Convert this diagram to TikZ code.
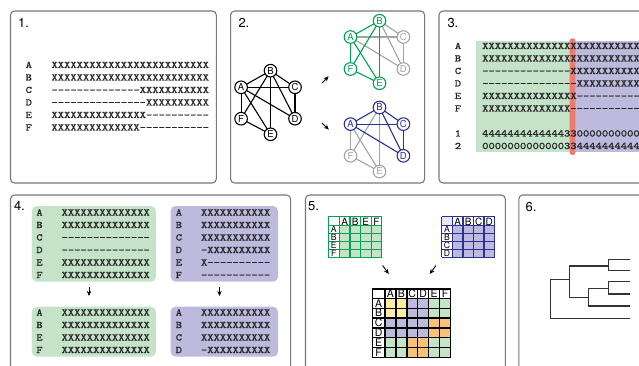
\documentclass[tikz,border=0pt]{standalone}
\usepackage{fontspec}
\setsansfont{TeX Gyre Heros}
\setmonofont[FakeStretch=1.2,FakeBold=1.2]{Latin Modern Mono}
\usetikzlibrary{arrows.meta}

\definecolor{seqgreen}{RGB}{197,227,201}
\definecolor{seqpurple}{RGB}{190,186,222}
\definecolor{cutred}{RGB}{238,122,112}
\definecolor{grgreen}{RGB}{0,163,80}
\definecolor{grblue}{RGB}{44,48,150}
\definecolor{grgray}{RGB}{160,164,168}
\definecolor{panelgray}{RGB}{120,120,120}
\definecolor{cellY}{RGB}{251,238,163}
\definecolor{cellO}{RGB}{246,194,122}
\definecolor{cellG}{RGB}{197,227,201}
\definecolor{cellP}{RGB}{190,186,222}

% repeat a character n times
\ExplSyntaxOn
\cs_new:Npn \seqrep #1#2 { \prg_replicate:nn {#1} {#2} }
\ExplSyntaxOff

\begin{document}
\begin{tikzpicture}[x=1pt,y=-1pt,
  panel/.style={draw=panelgray, line width=1.1pt, rounded corners=4pt},
  plabel/.style={font=\sffamily\fontsize{13}{13}\selectfont, inner sep=0pt, anchor=west},
  seq/.style={font=\ttfamily\fontsize{10}{10}\selectfont, inner sep=0pt, anchor=base west, text=black!85},
  rowlab/.style={font=\ttfamily\fontsize{10}{10}\selectfont, inner sep=0pt, anchor=base, text=black!85},
  vtx/.style={circle, draw, fill=white, line width=1.1pt, minimum size=12.6pt, inner sep=0pt,
    font=\sffamily\fontsize{9.5}{9.5}\selectfont},
  edge/.style={line width=1.1pt},
  sarrow/.style={-{Stealth[length=5pt,width=4.4pt]}, line width=0.9pt},
  tree/.style={line width=1.3pt, draw=black!80},
  mlab/.style={inner sep=0pt, font=\sffamily\fontsize{10}{10}\selectfont},
  rlab/.style={inner sep=0pt, font=\sffamily\fontsize{8.6}{8.6}\selectfont},
  blab/.style={inner sep=0pt, font=\sffamily\fontsize{10.5}{10.5}\selectfont},
]
\useasboundingbox (0,0) rectangle (639,366);
\clip (0,0) rectangle (639,366);

% ---------- panel frames ----------
\draw[panel] (10.5,11) rectangle (216.3,183);
\draw[panel] (230.6,11) rectangle (424.6,183);
\draw[panel] (439,11) rectangle (660,183);
\draw[panel] (10.5,195) rectangle (290.6,380);
\draw[panel] (305.5,195) rectangle (505.3,380);
\draw[panel] (518.8,195) rectangle (660,380);

\node[plabel] (lab1) at (18,22.5) {1.};
\node[plabel] (lab2) at (238.3,22.5) {2.};
\node[plabel] (lab3) at (447.3,22.5) {3.};
\node[plabel] (lab4) at (13.8,206) {4.};
\node[plabel] (lab5) at (308,206.5) {5.};
\node[plabel] (lab6) at (525.5,206.5) {6.};

% ---------- panel 1: alignment ----------
\node[rowlab] (p1lA) at (28.8,68)    {A};
\node[rowlab] (p1lB) at (28.8,80.5)  {B};
\node[rowlab] (p1lC) at (28.8,93)    {C};
\node[rowlab] (p1lD) at (28.8,105.5) {D};
\node[rowlab] (p1lE) at (28.8,118)   {E};
\node[rowlab] (p1lF) at (28.8,130.5) {F};
\node[seq] (p1sA) at (51.3,68)    {\seqrep{25}{X}};
\node[seq] (p1sB) at (51.3,80.5)  {\seqrep{25}{X}};
\node[seq] (p1sC) at (51.3,93)    {\seqrep{14}{-}\seqrep{11}{X}};
\node[seq] (p1sD) at (51.3,105.5) {\seqrep{15}{-}\seqrep{10}{X}};
\node[seq] (p1sE) at (51.3,118)   {\seqrep{15}{X}\seqrep{10}{-}};
\node[seq] (p1sF) at (51.3,130.5) {\seqrep{14}{X}\seqrep{11}{-}};

% ---------- panel 2: graphs ----------
% full graph
\begin{scope}[shift={(270.5,70.7)}]
  \coordinate (kB) at (0,0);
  \coordinate (kA) at (-29.4,16.6);
  \coordinate (kC) at (24.5,16.6);
  \coordinate (kF) at (-29.4,48);
  \coordinate (kD) at (24.5,48);
  \coordinate (kE) at (0,63.6);
\end{scope}
\begin{scope}[edge]
  \draw (kA) -- (kB); \draw (kB) -- (kC); \draw (kA) -- (kC);
  \draw (kA) -- (kF); \draw (kA) -- (kD); \draw (kA) -- (kE);
  \draw (kB) -- (kF); \draw (kB) -- (kE); \draw (kB) -- (kD);
  \draw (kC) -- (kD); \draw (kF) -- (kE);
\end{scope}
\foreach \n in {A,B,C,D,E,F} {\node[vtx] (kk\n) at (k\n) {\n};}

% green sub-graph
\begin{scope}[shift={(379.5,20.7)}]
  \coordinate (gB) at (0,0);
  \coordinate (gA) at (-29,16.3);
  \coordinate (gC) at (23.9,16.3);
  \coordinate (gF) at (-29,48.3);
  \coordinate (gD) at (23.9,48.3);
  \coordinate (gE) at (0,62.6);
\end{scope}
\begin{scope}[edge, grgray]
  \draw (gA) -- (gC); \draw (gA) -- (gD); \draw (gB) -- (gC);
  \draw (gB) -- (gD); \draw (gC) -- (gD);
\end{scope}
\begin{scope}[edge, grgreen]
  \draw (gA) -- (gB); \draw (gA) -- (gF); \draw (gA) -- (gE);
  \draw (gB) -- (gF); \draw (gB) -- (gE); \draw (gF) -- (gE);
\end{scope}
\foreach \n in {A,B,E,F} {\node[vtx, draw=grgreen, text=grgreen] (gg\n) at (g\n) {\n};}
\foreach \n in {C,D} {\node[vtx, draw=grgray, text=grgray] (gg\n) at (g\n) {\n};}

% blue sub-graph
\begin{scope}[shift={(379.5,107.5)}]
  \coordinate (bB) at (0,0);
  \coordinate (bA) at (-29,16.6);
  \coordinate (bC) at (23.9,16.6);
  \coordinate (bF) at (-29,48.3);
  \coordinate (bD) at (23.9,48.3);
  \coordinate (bE) at (0,64);
\end{scope}
\begin{scope}[edge, grgray]
  \draw (bA) -- (bF); \draw (bA) -- (bE); \draw (bB) -- (bF);
  \draw (bB) -- (bE); \draw (bF) -- (bE);
\end{scope}
\begin{scope}[edge, grblue]
  \draw (bA) -- (bB); \draw (bB) -- (bC); \draw (bA) -- (bC);
  \draw (bA) -- (bD); \draw (bB) -- (bD); \draw (bC) -- (bD);
\end{scope}
\foreach \n in {A,B,C,D} {\node[vtx, draw=grblue, text=grblue] (bb\n) at (b\n) {\n};}
\foreach \n in {E,F} {\node[vtx, draw=grgray, text=grgray] (bb\n) at (b\n) {\n};}

\coordinate (up0) at (322,83);  \coordinate (up1) at (328.6,76.4);
\coordinate (dn0) at (322,123); \coordinate (dn1) at (328.8,129.6);
\draw[sarrow] (up0) -- (up1);
\draw[sarrow] (dn0) -- (dn1);

% ---------- panel 3: split alignment ----------
\fill[seqgreen] (475.5,41.3) rectangle (572.5,151.7);
\fill[seqpurple] (572.5,41.3) rectangle (660,151.7);
\fill[cutred, rounded corners=2.5pt] (569.6,38.3) rectangle (575.4,155);
\node[rowlab] (p3lA) at (458,49)    {A};
\node[rowlab] (p3lB) at (458,61.5)  {B};
\node[rowlab] (p3lC) at (458,74)    {C};
\node[rowlab] (p3lD) at (458,86.5)  {D};
\node[rowlab] (p3lE) at (458,99)    {E};
\node[rowlab] (p3lF) at (458,111.5) {F};
\node[rowlab] (p3l1) at (458,136.5) {1};
\node[rowlab] (p3l2) at (458,149)   {2};
\node[seq] (p3sA) at (482,49)    {\seqrep{25}{X}};
\node[seq] (p3sB) at (482,61.5)  {\seqrep{25}{X}};
\node[seq] (p3sC) at (482,74)    {\seqrep{14}{-}\seqrep{11}{X}};
\node[seq] (p3sD) at (482,86.5)  {\seqrep{15}{-}\seqrep{10}{X}};
\node[seq] (p3sE) at (482,99)    {\seqrep{15}{X}\seqrep{10}{-}};
\node[seq] (p3sF) at (482,111.5) {\seqrep{14}{X}\seqrep{11}{-}};
\node[seq] (p3s1) at (482,136.5) {\seqrep{13}{4}33\seqrep{10}{0}};
\node[seq] (p3s2) at (482,149)   {\seqrep{13}{0}33\seqrep{10}{4}};

% ---------- panel 4: sub-alignments ----------
\fill[seqgreen, rounded corners=5pt] (31.8,206) rectangle (155.9,281.7);
\fill[seqpurple, rounded corners=5pt] (170.6,206) rectangle (278,281.7);
\fill[seqgreen, rounded corners=5pt] (31.8,306.7) rectangle (155.9,356.7);
\fill[seqpurple, rounded corners=5pt] (170.6,306.7) rectangle (278,356.7);

\foreach \l/\yy/\s [count=\i] in {A/215.5/{\seqrep{14}{X}}, B/228/{\seqrep{14}{X}},
    C/240.5/{\seqrep{14}{-}}, D/253/{\seqrep{14}{-}}, E/265.5/{\seqrep{14}{X}}, F/278/{\seqrep{14}{X}}} {
  \node[rowlab] (p4gl\i) at (39.5,\yy) {\l};
  \node[seq] (p4gs\i) at (61.4,\yy) {\s};
}
\foreach \l/\yy/\s [count=\i] in {A/215.5/{\seqrep{11}{X}}, B/228/{\seqrep{11}{X}},
    C/240.5/{\seqrep{11}{X}}, D/253/{-\seqrep{10}{X}}, E/265.5/{X\seqrep{10}{-}}, F/278/{\seqrep{11}{-}}} {
  \node[rowlab] (p4pl\i) at (178.9,\yy) {\l};
  \node[seq] (p4ps\i) at (200.8,\yy) {\s};
}
\foreach \l/\yy/\s [count=\i] in {A/315.5/{\seqrep{14}{X}}, B/328/{\seqrep{14}{X}},
    E/340.5/{\seqrep{14}{X}}, F/353/{\seqrep{14}{X}}} {
  \node[rowlab] (p4hl\i) at (39.5,\yy) {\l};
  \node[seq] (p4hs\i) at (61.4,\yy) {\s};
}
\foreach \l/\yy/\s [count=\i] in {A/315.5/{\seqrep{11}{X}}, B/328/{\seqrep{11}{X}},
    C/340.5/{\seqrep{11}{X}}, D/353/{-\seqrep{10}{X}}} {
  \node[rowlab] (p4ql\i) at (178.9,\yy) {\l};
  \node[seq] (p4qs\i) at (200.8,\yy) {\s};
}
\coordinate (g4a) at (89,286.5);    \coordinate (g4b) at (89,296);
\coordinate (p4a) at (219.5,286.5); \coordinate (p4b) at (219.5,296);
\draw[sarrow] (g4a) -- (g4b);
\draw[sarrow] (p4a) -- (p4b);

% ---------- panel 5: distance matrices ----------
% green matrix
\fill[seqgreen] (339.3,225.7) rectangle (381.7,257.3);
\begin{scope}[grgreen, line width=1.2pt]
  \foreach \xx in {328.3,339.3,349.9,360.5,371.1,381.7} \draw (\xx,216.7) -- (\xx,257.3);
  \foreach \yy in {216.7,225.7,233.6,241.5,249.4,257.3} \draw (328.3,\yy) -- (381.7,\yy);
\end{scope}
\foreach \l [count=\i] in {A,B,E,F} {
  \node[mlab] (gmc\i) at ({339.3+10.6*(\i-0.5)},221.4) {\l};
  \node[rlab] (gmr\i) at (333.8,{225.7+7.9*(\i-0.5)}) {\l};
}
% purple matrix
\fill[seqpurple] (452.5,225.7) rectangle (494.5,257.3);
\fill[seqpurple!35] (441.5,216.7) rectangle (452.5,225.7);
\begin{scope}[grblue, line width=1.2pt]
  \foreach \xx in {441.5,452.5,463,473.5,484,494.5} \draw (\xx,216.7) -- (\xx,257.3);
  \foreach \yy in {216.7,225.7,233.6,241.5,249.4,257.3} \draw (441.5,\yy) -- (494.5,\yy);
\end{scope}
\foreach \l [count=\i] in {A,B,C,D} {
  \node[mlab] (pmc\i) at ({452.5+10.5*(\i-0.5)},221.4) {\l};
  \node[rlab] (pmr\i) at (447,{225.7+7.9*(\i-0.5)}) {\l};
}
% merged matrix
\foreach \r/\ca/\cb/\cc/\cd/\ce/\cf in {1/Y/Y/P/P/G/G, 2/Y/Y/P/P/G/G, 3/P/P/P/P/O/O,
    4/P/P/P/P/O/O, 5/G/G/O/O/G/G, 6/G/G/O/O/G/G} {
  \foreach \c/\col in {1/\ca,2/\cb,3/\cc,4/\cd,5/\ce,6/\cf} {
    \fill[cell\col] ({384.9+10.95*(\c-1)},{298.4+9.8*(\r-1)}) rectangle ++(10.95,9.8);
  }
}
\begin{scope}[black, line width=1.4pt]
  \foreach \c in {0,...,6} \draw ({384.9+10.95*\c},288.9) -- ({384.9+10.95*\c},357.2);
  \draw (372.3,288.9) -- (372.3,357.2);
  \foreach \r in {0,...,6} \draw (372.3,{298.4+9.8*\r}) -- (450.6,{298.4+9.8*\r});
  \draw (372.3,288.9) -- (450.6,288.9);
\end{scope}
\foreach \l [count=\i] in {A,B,C,D,E,F} {
  \node[blab] (mmc\i) at ({384.9+10.95*(\i-0.5)},293.8) {\l};
  \node[blab] (mmr\i) at (378.6,{298.4+9.8*(\i-0.5)}) {\l};
}
\coordinate (m5a) at (382.6,265.5); \coordinate (m5b) at (388.8,274);
\coordinate (m5c) at (435.9,265.5); \coordinate (m5d) at (429.7,274);
\draw[sarrow] (m5a) -- (m5b);
\draw[sarrow] (m5c) -- (m5d);

% ---------- panel 6: tree ----------
\draw[tree] (569.3,279.3) -- (550.7,279.3) -- (550.7,318.3) -- (630,318.3);
\draw[tree] (608.3,266) -- (569.3,266) -- (569.3,297.3) -- (588.3,297.3);
\draw[tree] (630,259.3) -- (608.3,259.3) -- (608.3,270.7) -- (630,270.7);
\draw[tree] (608.3,288.3) -- (588.3,288.3) -- (588.3,306) -- (630,306);
\draw[tree] (630,281.7) -- (608.3,281.7) -- (608.3,294) -- (630,294);
\end{tikzpicture}
\end{document}
